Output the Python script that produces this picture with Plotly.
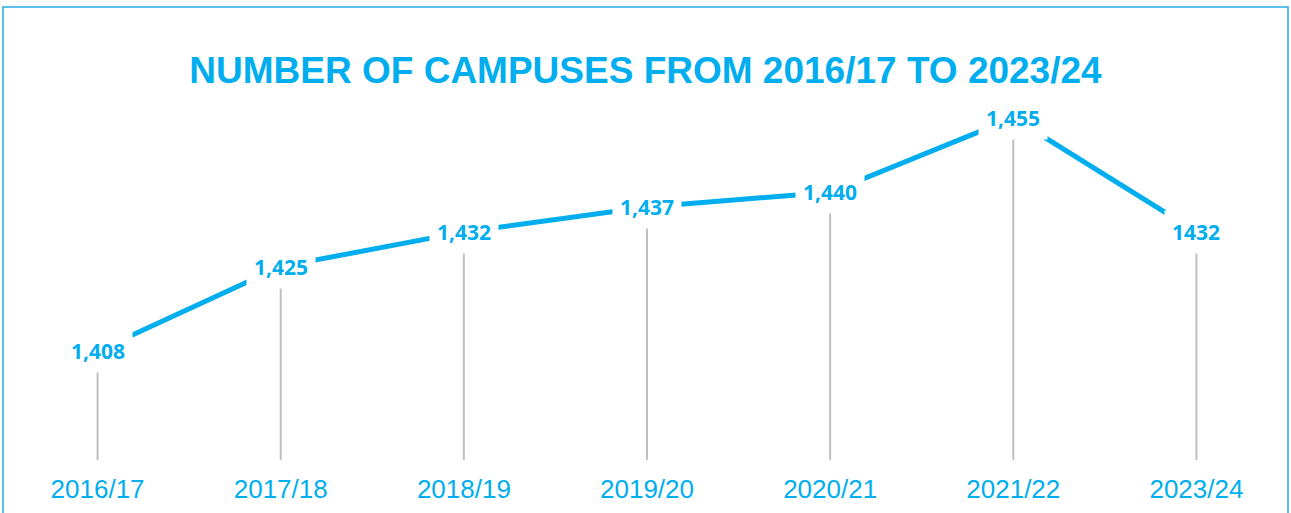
import plotly.graph_objects as go

years = ["2016/17", "2017/18", "2018/19", "2019/20", "2020/21", "2021/22", "2023/24"]
campuses = [1408, 1425, 1432, 1437, 1440, 1455, 1432]
labels = ["1,408", "1,425", "1,432", "1,437", "1,440", "1,455", "1432"]

BLUE = "#00AEEF"
GREY = "#BFBFBF"
Y_MIN, Y_MAX = 1386, 1458.6

fig = go.Figure()

# drop lines from the floor up to each value (label box hides the top part)
for yr, v in zip(years, campuses):
    fig.add_trace(go.Scatter(x=[yr, yr], y=[Y_MIN, v], mode="lines",
                             line=dict(color=GREY, width=2), hoverinfo="skip",
                             showlegend=False))

fig.add_trace(go.Scatter(x=years, y=campuses, mode="lines",
                         line=dict(color=BLUE, width=5), showlegend=False,
                         hovertemplate="%{x}: %{y:,}<extra></extra>"))

for yr, v, t in zip(years, campuses, labels):
    fig.add_annotation(x=yr, y=v, text=f"<b>{t}</b>", showarrow=False,
                       bgcolor="white", borderpad=7,
                       font=dict(family="Open Sans", size=21, color=BLUE))

fig.add_shape(type="rect", xref="paper", yref="paper",
              x0=-3 / 1282, x1=1.0, y0=-0.2, y1=(460 - 7) / 360,
              line=dict(color="#29ABE2", width=1.5), fillcolor="rgba(0,0,0,0)")

fig.update_layout(
    title=dict(text="<b>NUMBER OF CAMPUSES FROM 2016/17 TO 2023/24</b>",
               x=0.5, xanchor="center", y=1 - 70 / 513, yanchor="middle",
               font=dict(family="Liberation Sans, Arial", size=37, color=BLUE)),
    width=1291, height=513,
    margin=dict(l=6, r=3, t=100, b=53),
    paper_bgcolor="white", plot_bgcolor="white",
    xaxis=dict(showgrid=False, zeroline=False, showline=False,
               ticks="outside", ticklen=6, tickcolor="rgba(0,0,0,0)",
               tickfont=dict(family="Liberation Sans, Arial", size=26, color=BLUE),
               range=[-0.5, 6.5]),
    yaxis=dict(range=[Y_MIN, Y_MAX], visible=False),
)

fig.write_html("out.html", config={"displayModeBar": False},
               post_script="document.body.style.margin='0';")
